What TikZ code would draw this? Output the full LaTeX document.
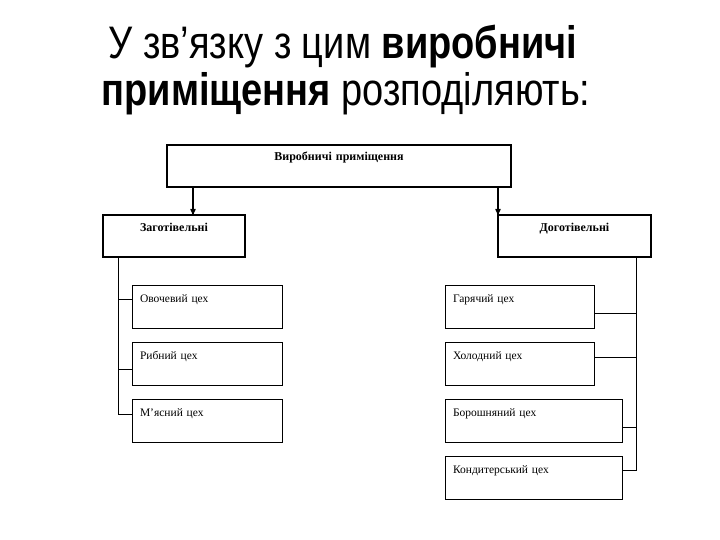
\documentclass[tikz,border=0pt]{standalone}
\usepackage{fontspec}
\setmainfont{Liberation Serif}
\newfontfamily\titlefont{Liberation Sans}
\usetikzlibrary{arrows}
\usetikzlibrary{positioning}

\begin{document}
\begin{tikzpicture}[x=1pt,y=-1pt,>=stealth',semithick,font=\fontsize{11.5}{13}\selectfont]
            % стилі вузлів
            \tikzstyle{headbox}=[draw,line width=2pt,inner sep=0pt,outer sep=0pt,text height=16pt,align=center,font=\fontsize{12}{13}\selectfont\bfseries]
            \tikzstyle{shopbox}=[draw,line width=0.8pt,inner ysep=0pt,inner xsep=8pt,outer sep=0pt,text height=17pt,text depth=26pt,align=left]
            \useasboundingbox (0,0) rectangle (720,540);

            % заголовок
            \node[anchor=base,font=\titlefont\fontsize{38}{40}\selectfont] (title1) at (343,59) {\scalebox{1}[1.2]{У зв’язку з цим \textbf{виробничі}}};
            \node[anchor=base,font=\titlefont\fontsize{38}{40}\selectfont] (title2) at (346,106) {\scalebox{1}[1.2]{\textbf{приміщення} розподіляють:}};

            % вузли
            \node[headbox,text width=344pt,text depth=26pt] (vyr) at (339,166) {Виробничі приміщення};
            \node[headbox,text width=142pt,text depth=26pt] (zag) [below=28pt of vyr.south west,xshift=-64pt,anchor=north west] {Заготівельні};
            \node[headbox,text width=153pt,text depth=26pt] (dog) [below=28pt of vyr.south east,xshift=-13pt,anchor=north west] {Доготівельні};

            \node[shopbox,text width=134pt] (ovo) [below=28pt of zag.south west,xshift=29pt,anchor=north west] {Овочевий цех};
            \node[shopbox,text width=134pt] (ryb) [below=14pt of ovo.south west,anchor=north west] {Рибний цех};
            \node[shopbox,text width=134pt] (mya) [below=14pt of ryb.south west,anchor=north west] {М’ясний цех};

            \node[shopbox,text width=133pt] (gar) [below=28pt of dog.south west,xshift=-53pt,anchor=north west] {Гарячий цех};
            \node[shopbox,text width=133pt] (hol) [below=14pt of gar.south west,anchor=north west] {Холодний цех};
            \node[shopbox,text width=161pt] (bor) [below=14pt of hol.south west,anchor=north west] {Борошняний цех};
            \node[shopbox,text width=161pt] (kon) [below=14pt of bor.south west,anchor=north west] {Кондитерський цех};

            % стрілки
            \draw[->,line width=1.2pt] ([xshift=26pt]vyr.south west) -- ([xshift=26pt]vyr.south west |- zag.north);
            \draw[->,line width=1.2pt] ([xshift=-13pt]vyr.south east) -- (dog.north west);

            % лінії до цехів
            \draw ([xshift=15pt]zag.south west) |- ([yshift=-15pt]mya.north west);
            \draw ([yshift=-14pt]ovo.north west) -- ++(-14,0);
            \draw ([yshift=-27pt]ryb.north west) -- ++(-14,0);

            \draw ([xshift=-15pt]dog.south east) |- ([yshift=-14pt]kon.north east);
            \draw ([yshift=-28pt]gar.north east) -- ++(42,0);
            \draw ([yshift=-15pt]hol.north east) -- ++(42,0);
            \draw ([yshift=-28pt]bor.north east) -- ++(14,0);
\end{tikzpicture}
\end{document}
